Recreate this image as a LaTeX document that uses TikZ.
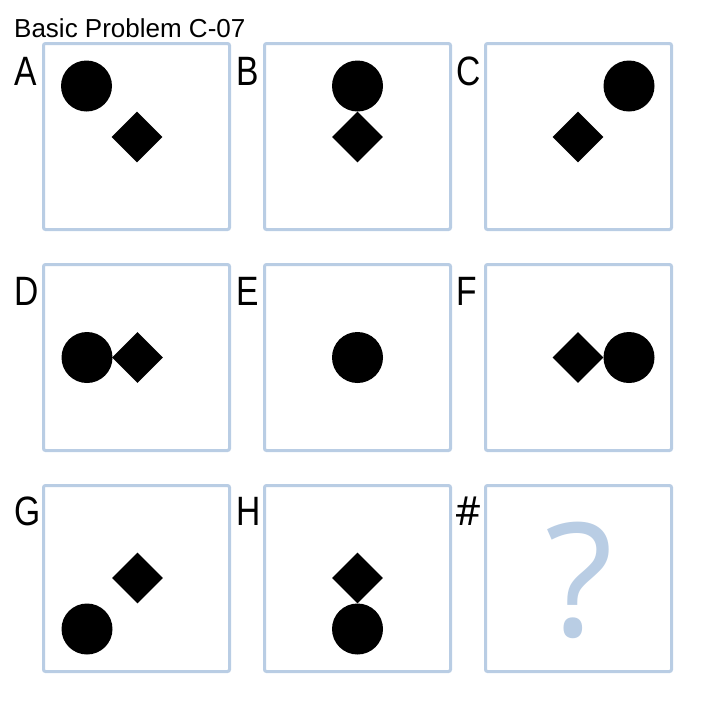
\documentclass[tikz,border=0pt]{standalone}
\usepackage{fontspec}
\setmainfont{Liberation Sans}
\newfontfamily\qfont{Open Sans}
\usetikzlibrary{shapes.geometric}
\definecolor{boxblue}{RGB}{185,205,228}
\tikzset{
  panel/.style={draw=boxblue, line width=3pt, rounded corners=2pt, minimum size=186pt, inner sep=0pt, fill=white},
  dot/.style={circle, fill=black, minimum size=51pt, inner sep=0pt},
  gem/.style={diamond, fill=black, minimum width=51pt, minimum height=51pt, inner sep=0pt},
  lbl/.style={anchor=base west, inner sep=0pt, font=\fontsize{41}{46}\selectfont},
  ttl/.style={anchor=base west, inner sep=0pt, font=\fontsize{26}{30}\selectfont},
}
\newcommand{\narrow}[1]{\scalebox{0.82}[1]{#1}}
\begin{document}
\begin{tikzpicture}[x=1pt,y=-1pt]
\useasboundingbox (0,0) rectangle (708,713);
\node[ttl] (title) at (14,37) {Basic Problem C-07};
% panels
\node[panel] (pA) at (136.5,136.5) {};
\node[panel] (pB) at (357.5,136.5) {};
\node[panel] (pC) at (578.5,136.5) {};
\node[panel] (pD) at (136.5,357.5) {};
\node[panel] (pE) at (357.5,357.5) {};
\node[panel] (pF) at (578.5,357.5) {};
\node[panel] (pG) at (136.5,578.5) {};
\node[panel] (pH) at (357.5,578.5) {};
\node[panel] (pQ) at (578.5,578.5) {};
% labels
\node[lbl] (lA) at (14,85) {\narrow{A}};
\node[lbl] (lB) at (236,85) {\narrow{B}};
\node[lbl] (lC) at (456,85) {\narrow{C}};
\node[lbl] (lD) at (14,305) {\narrow{D}};
\node[lbl] (lE) at (236,305) {\narrow{E}};
\node[lbl] (lF) at (456,305) {\narrow{F}};
\node[lbl] (lG) at (14,525) {\narrow{G}};
\node[lbl] (lH) at (236,525) {\narrow{H}};
\node[lbl, font=\qfont\fontsize{40}{44}\selectfont] (lQ) at (455,525) {\#};
% A
\node[dot] (cA) at (86.5,86) {};
\node[gem] (dA) at (137,137) {};
% B
\node[dot] (cB) at (357.5,86) {};
\node[gem] (dB) at (357.5,137) {};
% C
\node[dot] (cC) at (629,86) {};
\node[gem] (dC) at (578,137) {};
% D
\node[dot] (cD) at (87,357.5) {};
\node[gem] (dD) at (137.5,357.5) {};
% E
\node[dot] (cE) at (357.5,357.5) {};
% F
\node[gem] (dF) at (578,357.5) {};
\node[dot] (cF) at (629,357.5) {};
% G
\node[gem] (dG) at (137.5,578) {};
\node[dot] (cG) at (87,629) {};
% H
\node[gem] (dH) at (357.5,578) {};
\node[dot] (cH) at (357.5,629) {};
% question mark
\node[text=boxblue, inner sep=0pt, font=\qfont\fontsize{158}{162}\selectfont] (qm) at (579.5,580) {?};
\end{tikzpicture}
\end{document}
